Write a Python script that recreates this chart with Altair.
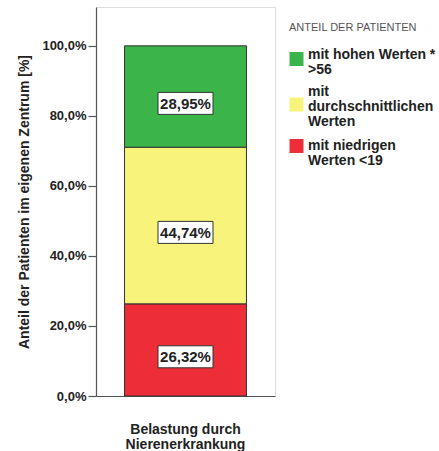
import altair as alt
import pandas as pd

# Share of patients per burden level (percent), bottom to top of the stack
groups = ["mit niedrigen|Werten <19", "mit|durchschnittlichen|Werten", "mit hohen Werten *|>56"]
shares = [26.32, 44.74, 28.95]
colors = ["#ed2d38", "#f7f37b", "#3bb54a"]
category = "Belastung durch|Nierenerkrankung"
y_ticks = [0, 20, 40, 60, 80, 100]

# legend swatches: squares nudged down so each sits beside the middle of its wrapped label
swatches = [
    "M-1,-0.93L1,-0.93L1,1.07L-1,1.07Z",
    "M-1,0.86L1,0.86L1,2.86L-1,2.86Z",
    "M-1,-0.36L1,-0.36L1,1.64L-1,1.64Z",
]

# stack boundaries derived from the shares
lower, acc = [], 0.0
for s in shares:
    lower.append(acc)
    acc += s

df = pd.DataFrame({
    "gruppe": groups,
    "anteil": shares,
    "unten": lower,
    "oben": [l + s for l, s in zip(lower, shares)],
    "mitte": [l + s / 2 for l, s in zip(lower, shares)],
    "kategorie": [category] * len(groups),
})

FONT = "Liberation Sans"
DARK = "#222222"
LINE = "#555555"

x_enc = alt.X(
    "kategorie:N",
    title=None,
    scale=alt.Scale(paddingInner=0, paddingOuter=0.234),
    axis=alt.Axis(
        labelExpr="split(datum.label, '|')",
        labelAngle=0,
        labelFont=FONT,
        labelFontSize=14,
        labelFontWeight="bold",
        labelColor=DARK,
        labelLineHeight=15,
        labelPadding=26,
        ticks=False,
        domainColor=LINE,
        domainWidth=1.2,
        grid=False,
    ),
)

y_scale = alt.Scale(domain=[0, 111.1], nice=False, zero=True)
# legend order runs top-down: high, average, low
legend_order = groups[::-1]
color_scale = alt.Scale(domain=legend_order, range=colors[::-1])
shape_scale = alt.Scale(domain=legend_order, range=swatches[::-1])

legend = alt.Legend(
    title="ANTEIL DER PATIENTEN",
    orient="none",
    legendX=193,
    legendY=15,
    padding=0,
    titleFont=FONT,
    titleFontSize=11,
    titleFontWeight="normal",
    titleColor="#555555",
    titlePadding=14,
    labelExpr="split(datum.label, '|')",
    labelFont=FONT,
    labelFontSize=14,
    labelFontWeight="bold",
    labelColor=DARK,
    labelOffset=4,
    labelLimit=200,
    symbolSize=196,
    symbolStrokeColor="#333333",
    symbolStrokeWidth=1,
    symbolOpacity=1,
    rowPadding=7,
)

bars = alt.Chart(df).mark_bar(stroke="#333333", strokeWidth=1).encode(
    x=x_enc,
    y=alt.Y(
        "unten:Q",
        scale=y_scale,
        title="Anteil der Patienten im eigenen Zentrum [%]",
        axis=alt.Axis(
            values=y_ticks,
            labelExpr="replace(format(datum.value, '.1f'), '.', ',') + '%'",
            labelFont=FONT,
            labelFontSize=13,
            labelFontWeight="bold",
            labelColor=DARK,
            tickSize=8,
            tickColor=LINE,
            tickWidth=1.2,
            domainColor=LINE,
            domainWidth=1.2,
            grid=False,
            titleFont=FONT,
            titleFontSize=14,
            titleFontWeight="bold",
            titleColor=DARK,
            titlePadding=10,
        ),
    ),
    y2="oben:Q",
    color=alt.Color("gruppe:N", scale=color_scale, legend=legend),
)

# legend-only layer: no rows pass the filter, the legend is built from the scale domains
legend_layer = alt.Chart(df).transform_filter("false").mark_point(
    filled=True, opacity=1, stroke="#333333", strokeWidth=1
).encode(
    x=alt.X("kategorie:N"),
    y=alt.Y("mitte:Q", scale=y_scale),
    color=alt.Color("gruppe:N", scale=color_scale, legend=legend),
    shape=alt.Shape("gruppe:N", scale=shape_scale, legend=legend),
)

# white label boxes behind the percentages
boxes = alt.Chart(df).mark_point(
    shape="M-1,-0.15L1,-0.15L1,0.65L-1,0.65Z",
    size=3025,
    filled=True,
    fill="white",
    stroke="#333333",
    strokeWidth=1,
    opacity=1,
).encode(
    x=alt.X("kategorie:N"),
    y=alt.Y("mitte:Q", scale=y_scale),
)

labels = alt.Chart(df).transform_calculate(
    txt="replace(format(datum.anteil, '.2f'), '.', ',') + '%'"
).mark_text(
    font=FONT, fontSize=15, fontWeight="bold", color=DARK, baseline="middle", dy=7
).encode(
    x=alt.X("kategorie:N"),
    y=alt.Y("mitte:Q", scale=y_scale),
    text="txt:N",
)

chart = (
    alt.layer(bars, boxes, labels, legend_layer)
    .properties(
        width=179,
        height=389,
        autosize=alt.AutoSizeParams(type="none"),
        padding={"left": 96, "top": 7, "right": 164, "bottom": 55},
    )
    .configure_view(fill="#f0f0f0", stroke=None)
    .configure(background="white", style={"guide-label": {"lineHeight": 15}})
)

chart.save("out.html", embed_options={"renderer": "svg", "actions": False})
